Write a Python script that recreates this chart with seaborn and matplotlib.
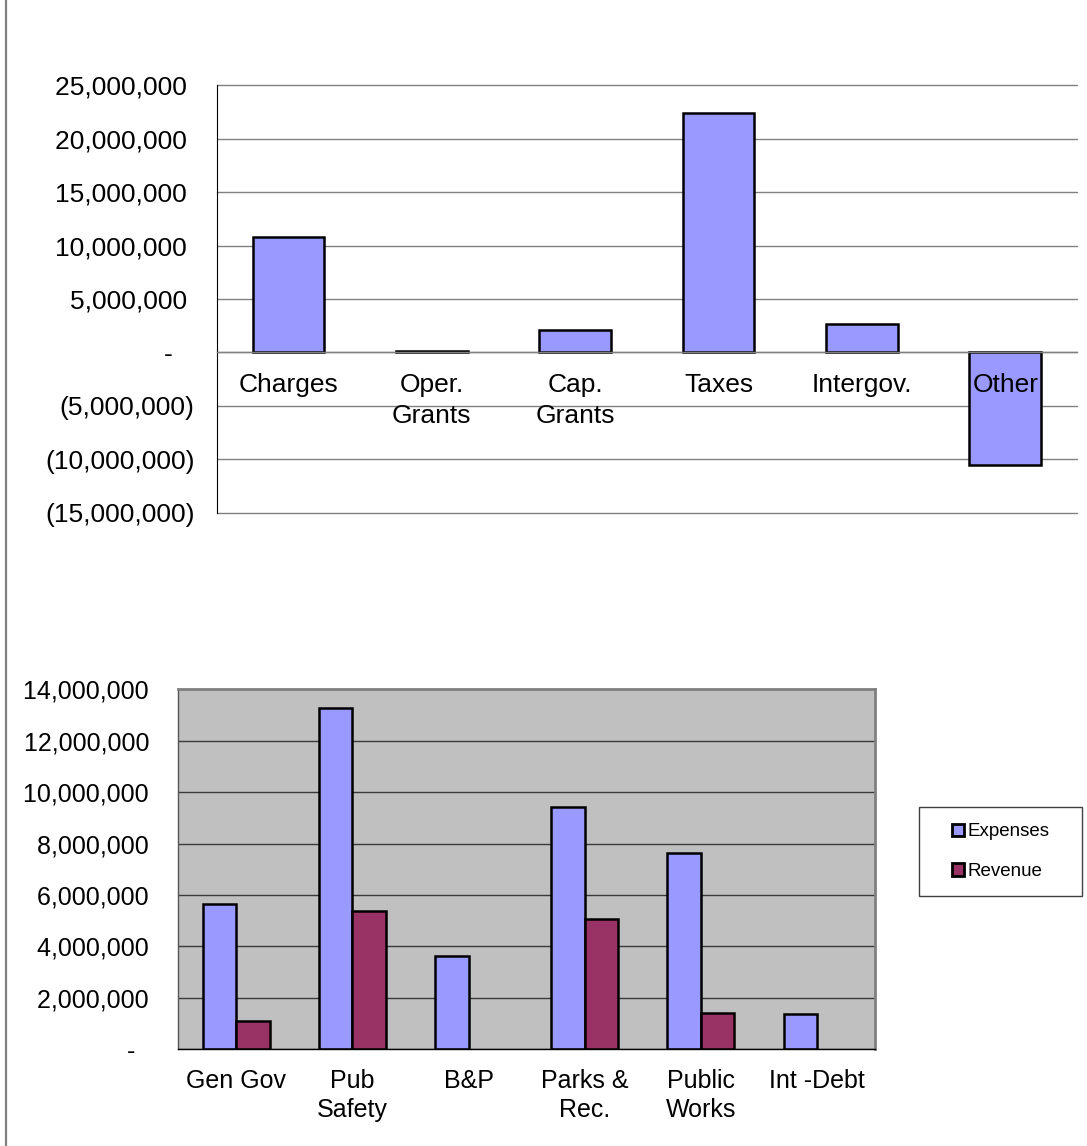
"""Statement of activities charts: revenue sources and expenses vs program revenue."""
import matplotlib
matplotlib.use('Agg')
import matplotlib.pyplot as plt
from matplotlib.lines import Line2D
from matplotlib.patches import Patch, Rectangle
from matplotlib.ticker import FuncFormatter, FixedLocator
import pandas as pd
import seaborn as sns

# top chart: general revenue sources
source_labels = ['Charges', 'Oper.\nGrants', 'Cap.\nGrants', 'Taxes', 'Intergov.', 'Other']
source_values = [10_840_000, 150_000, 2_060_000, 22_430_000, 2_680_000, -10_500_000]

# bottom chart: expenses and program revenue by function
function_labels = ['Gen Gov', 'Pub\nSafety', 'B&P', 'Parks &\nRec.', 'Public\nWorks', 'Int -Debt']
expenses = [5_640_000, 13_260_000, 3_640_000, 9_410_000, 7_650_000, 1_370_000]
revenue = [1_100_000, 5_390_000, 0, 5_080_000, 1_420_000, 0]

sns.set_style('white')
plt.rcParams['font.family'] = ['Liberation Sans', 'DejaVu Sans']
plt.rcParams['text.color'] = 'black'
plt.rcParams['xtick.labelcolor'] = 'black'
plt.rcParams['ytick.labelcolor'] = 'black'

BLUE = '#9999FF'
PLUM = '#993366'
GRID = '#808080'


def accounting(value, pos):
    """Excel accounting style: (negatives), dash for zero."""
    if value < 0:
        return f'({abs(value):,.0f})'
    if value == 0:
        return '-   '
    return f'{value:,.0f} '


fig = plt.figure(figsize=(10.87, 11.46), dpi=100)

# ---------- top chart ----------
ax1 = fig.add_axes([0.1994, 0.5526, 0.7914, 0.3730])
sns.barplot(x=source_labels, y=source_values, color=BLUE, saturation=1,
            width=0.5, edgecolor='black', linewidth=1.8, ax=ax1)
ax1.set_xlim(-0.5, 5.5)
ax1.set_ylim(-15_000_000, 25_000_000)
ax1.set_yticks(range(-15_000_000, 25_000_001, 5_000_000))
ax1.yaxis.set_major_formatter(FuncFormatter(accounting))
ax1.yaxis.grid(True, color=GRID, linewidth=1)
for line in ax1.get_ygridlines():
    line.set_clip_on(False)
ax1.set_axisbelow(True)
ax1.xaxis.set_zorder(3)  # labels sit on top of the bars, like Excel
for side in ['top', 'right']:
    ax1.spines[side].set_visible(False)
ax1.spines['left'].set_color('black')
ax1.spines['left'].set_linewidth(0.8)
ax1.spines['bottom'].set_position(('data', 0))
ax1.spines['bottom'].set_color(GRID)
ax1.spines['bottom'].set_linewidth(1)
ax1.tick_params(axis='y', length=6, color=GRID, pad=10, labelsize=19)
ax1.tick_params(axis='x', which='major', length=0, pad=15, labelsize=19)
ax1.xaxis.set_minor_locator(FixedLocator([i - 0.5 for i in range(7)]))
ax1.tick_params(axis='x', which='minor', length=6, color=GRID, direction='out')
ax1.set(xlabel='', ylabel='')
for label in ax1.get_xticklabels():
    label.set_linespacing(1.35)

# ---------- bottom chart ----------
df = pd.DataFrame({
    'function': function_labels * 2,
    'series': ['Expenses'] * len(expenses) + ['Revenue'] * len(revenue),
    'amount': expenses + revenue,
})
palette = {'Expenses': BLUE, 'Revenue': PLUM}
ax2 = fig.add_axes([0.1640, 0.0844, 0.6410, 0.3141])
sns.barplot(data=df, x='function', y='amount', hue='series', palette=palette,
            saturation=1, width=0.576, edgecolor='black', linewidth=1.8,
            legend=False, ax=ax2)
for bar in ax2.patches:
    if bar.get_height() == 0:
        bar.set_linewidth(0)
ax2.set_facecolor('#C0C0C0')
ax2.set_xlim(-0.5, 5.5)
ax2.set_ylim(0, 14_000_000)
ax2.set_yticks(range(0, 14_000_001, 2_000_000))
ax2.yaxis.set_major_formatter(FuncFormatter(accounting))
ax2.yaxis.grid(True, color='#3a3a3a', linewidth=1)
ax2.set_axisbelow(True)
for side in ['top', 'right']:
    ax2.spines[side].set_color(GRID)
    ax2.spines[side].set_linewidth(2)
ax2.spines['left'].set_color('#555555')
ax2.spines['left'].set_linewidth(1)
ax2.spines['bottom'].set_color('black')
ax2.spines['bottom'].set_linewidth(1)
ax2.tick_params(axis='y', length=5, color='#555555', pad=11, labelsize=18)
ax2.tick_params(axis='x', which='major', length=0, pad=14, labelsize=18)
ax2.xaxis.set_minor_locator(FixedLocator([i - 0.5 for i in range(7)]))
ax2.tick_params(axis='x', which='minor', length=6, color='#555555', direction='out')
ax2.set(xlabel='', ylabel='')
for label in ax2.get_xticklabels():
    label.set_linespacing(1.3)

# legend in a plain box to the right
box = Rectangle((919.3 / 1087, 1 - 896 / 1146), 163 / 1087, 88.7 / 1146,
                transform=fig.transFigure, fill=False, edgecolor='#404040', linewidth=1)
fig.add_artist(box)
handles = [Patch(facecolor=palette[k], edgecolor='black', linewidth=2) for k in palette]
fig.legend(handles, list(palette), loc='center',
           bbox_to_anchor=(1000.8 / 1087, 1 - 851.7 / 1146), frameon=False,
           fontsize=13.5, handlelength=0.65, handleheight=0.65,
           handletextpad=0.15, labelspacing=1.2)

# page border on the left
fig.add_artist(Line2D([5.5 / 1087, 5.5 / 1087], [0, 1], color=GRID, linewidth=1.6))

fig.savefig('out.png', dpi=100)
